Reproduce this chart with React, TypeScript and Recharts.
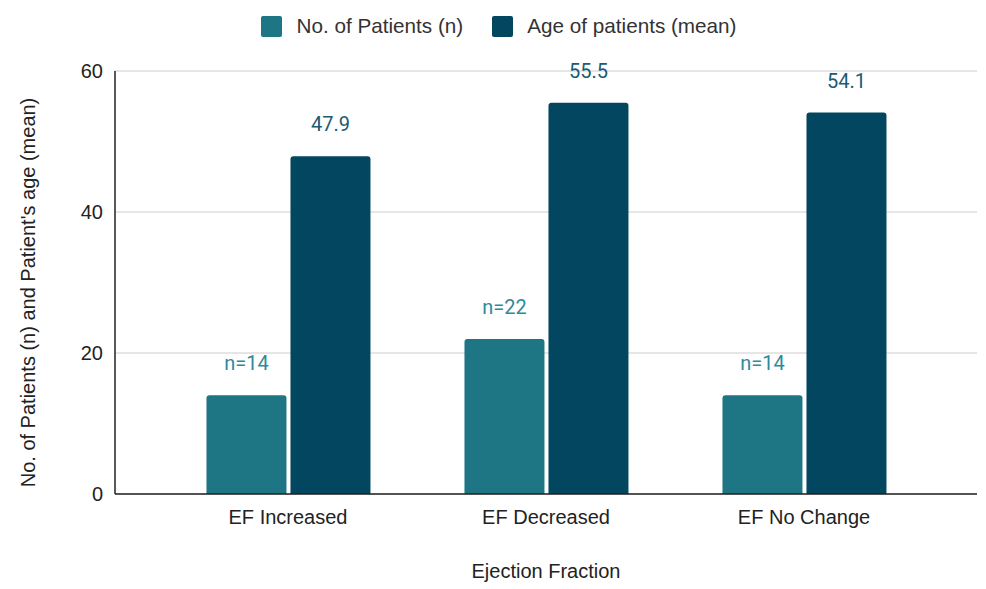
import React from 'react'
import { BarChart, Bar, XAxis, YAxis, CartesianGrid, Legend, LabelList, Label } from 'recharts'

const categories = ['EF Increased', 'EF Decreased', 'EF No Change']
const patientCounts = [14, 22, 14]
const meanAges = [47.9, 55.5, 54.1]
const yTicks = [0, 20, 40, 60]

const TEAL = '#1e7584'
const NAVY = '#03465f'
const ARIAL = '"Liberation Sans", Arial, sans-serif'
const Y_TITLE = "No. of Patients (n) and Patient's age (mean)"

const data = categories.map((name, i) => ({
  name,
  patients: patientCounts[i],
  age: meanAges[i],
}))

const LegendContent = () => (
  <div style={{ display: 'flex', justifyContent: 'center', alignItems: 'center', height: 40, paddingLeft: 21, fontFamily: ARIAL, fontSize: 20.7, color: '#333' }}>
    <span style={{ display: 'inline-block', width: 21, height: 21, background: TEAL, borderRadius: 2, marginRight: 14 }} />
    <span style={{ marginRight: 29 }}>No. of Patients (n)</span>
    <span style={{ display: 'inline-block', width: 21, height: 21, background: NAVY, borderRadius: 2, marginRight: 14 }} />
    <span>Age of patients (mean)</span>
  </div>
)

// title sits a little below the plot's middle, like the original
const YTitle = (props: any) => {
  const vb = props.viewBox || { y: 0, height: 0 }
  const cx = 35
  const cy = vb.y + vb.height / 2 + 10
  return (
    <text
      x={cx}
      y={cy}
      transform={`rotate(-90, ${cx}, ${cy})`}
      textAnchor="middle"
      fill="#222"
      fontSize={20}
      fontFamily={ARIAL}
    >
      {Y_TITLE}
    </text>
  )
}

export default function App() {
  return (
    <div style={{ position: 'absolute', left: 0, top: 0, background: '#fff' }}>
      <BarChart
        width={986}
        height={589}
        data={data}
        margin={{ top: 31, right: 9, bottom: 0, left: 0 }}
        barCategoryGap="18.4%"
        barGap={4}
      >
        <CartesianGrid vertical={false} stroke="#cccccc" />
        <Legend verticalAlign="top" content={<LegendContent />} wrapperStyle={{ top: 6 }} />
        <XAxis
          dataKey="name"
          padding={{ left: 44, right: 44 }}
          axisLine={{ stroke: '#222', strokeWidth: 1.5 }}
          tickLine={false}
          height={95}
          tick={{ fill: '#222', fontSize: 20, fontFamily: ARIAL }}
          tickMargin={10}
        >
          <Label value="Ejection Fraction" position="insideBottom" offset={11} style={{ fill: '#222', fontSize: 20, fontFamily: ARIAL }} />
        </XAxis>
        <YAxis
          domain={[0, 60]}
          ticks={yTicks}
          width={115}
          axisLine={{ stroke: '#222', strokeWidth: 1.5 }}
          tickLine={false}
          tick={{ fill: '#222', fontSize: 20, fontFamily: ARIAL }}
          tickMargin={6}
        >
          <Label content={<YTitle />} />
        </YAxis>
        <Bar dataKey="patients" fill={TEAL} radius={[3, 3, 0, 0]} isAnimationActive={false}>
          <LabelList
            dataKey="patients"
            position="top"
            offset={25}
            formatter={(v: number) => `n=${v}`}
            style={{ fill: '#2e8a99', fontSize: 20, fontFamily: 'Roboto, sans-serif' }}
          />
        </Bar>
        <Bar dataKey="age" fill={NAVY} radius={[3, 3, 0, 0]} isAnimationActive={false}>
          <LabelList
            dataKey="age"
            position="top"
            offset={25}
            style={{ fill: '#1d5a73', fontSize: 20, fontFamily: 'Roboto, sans-serif' }}
          />
        </Bar>
      </BarChart>
    </div>
  )
}
